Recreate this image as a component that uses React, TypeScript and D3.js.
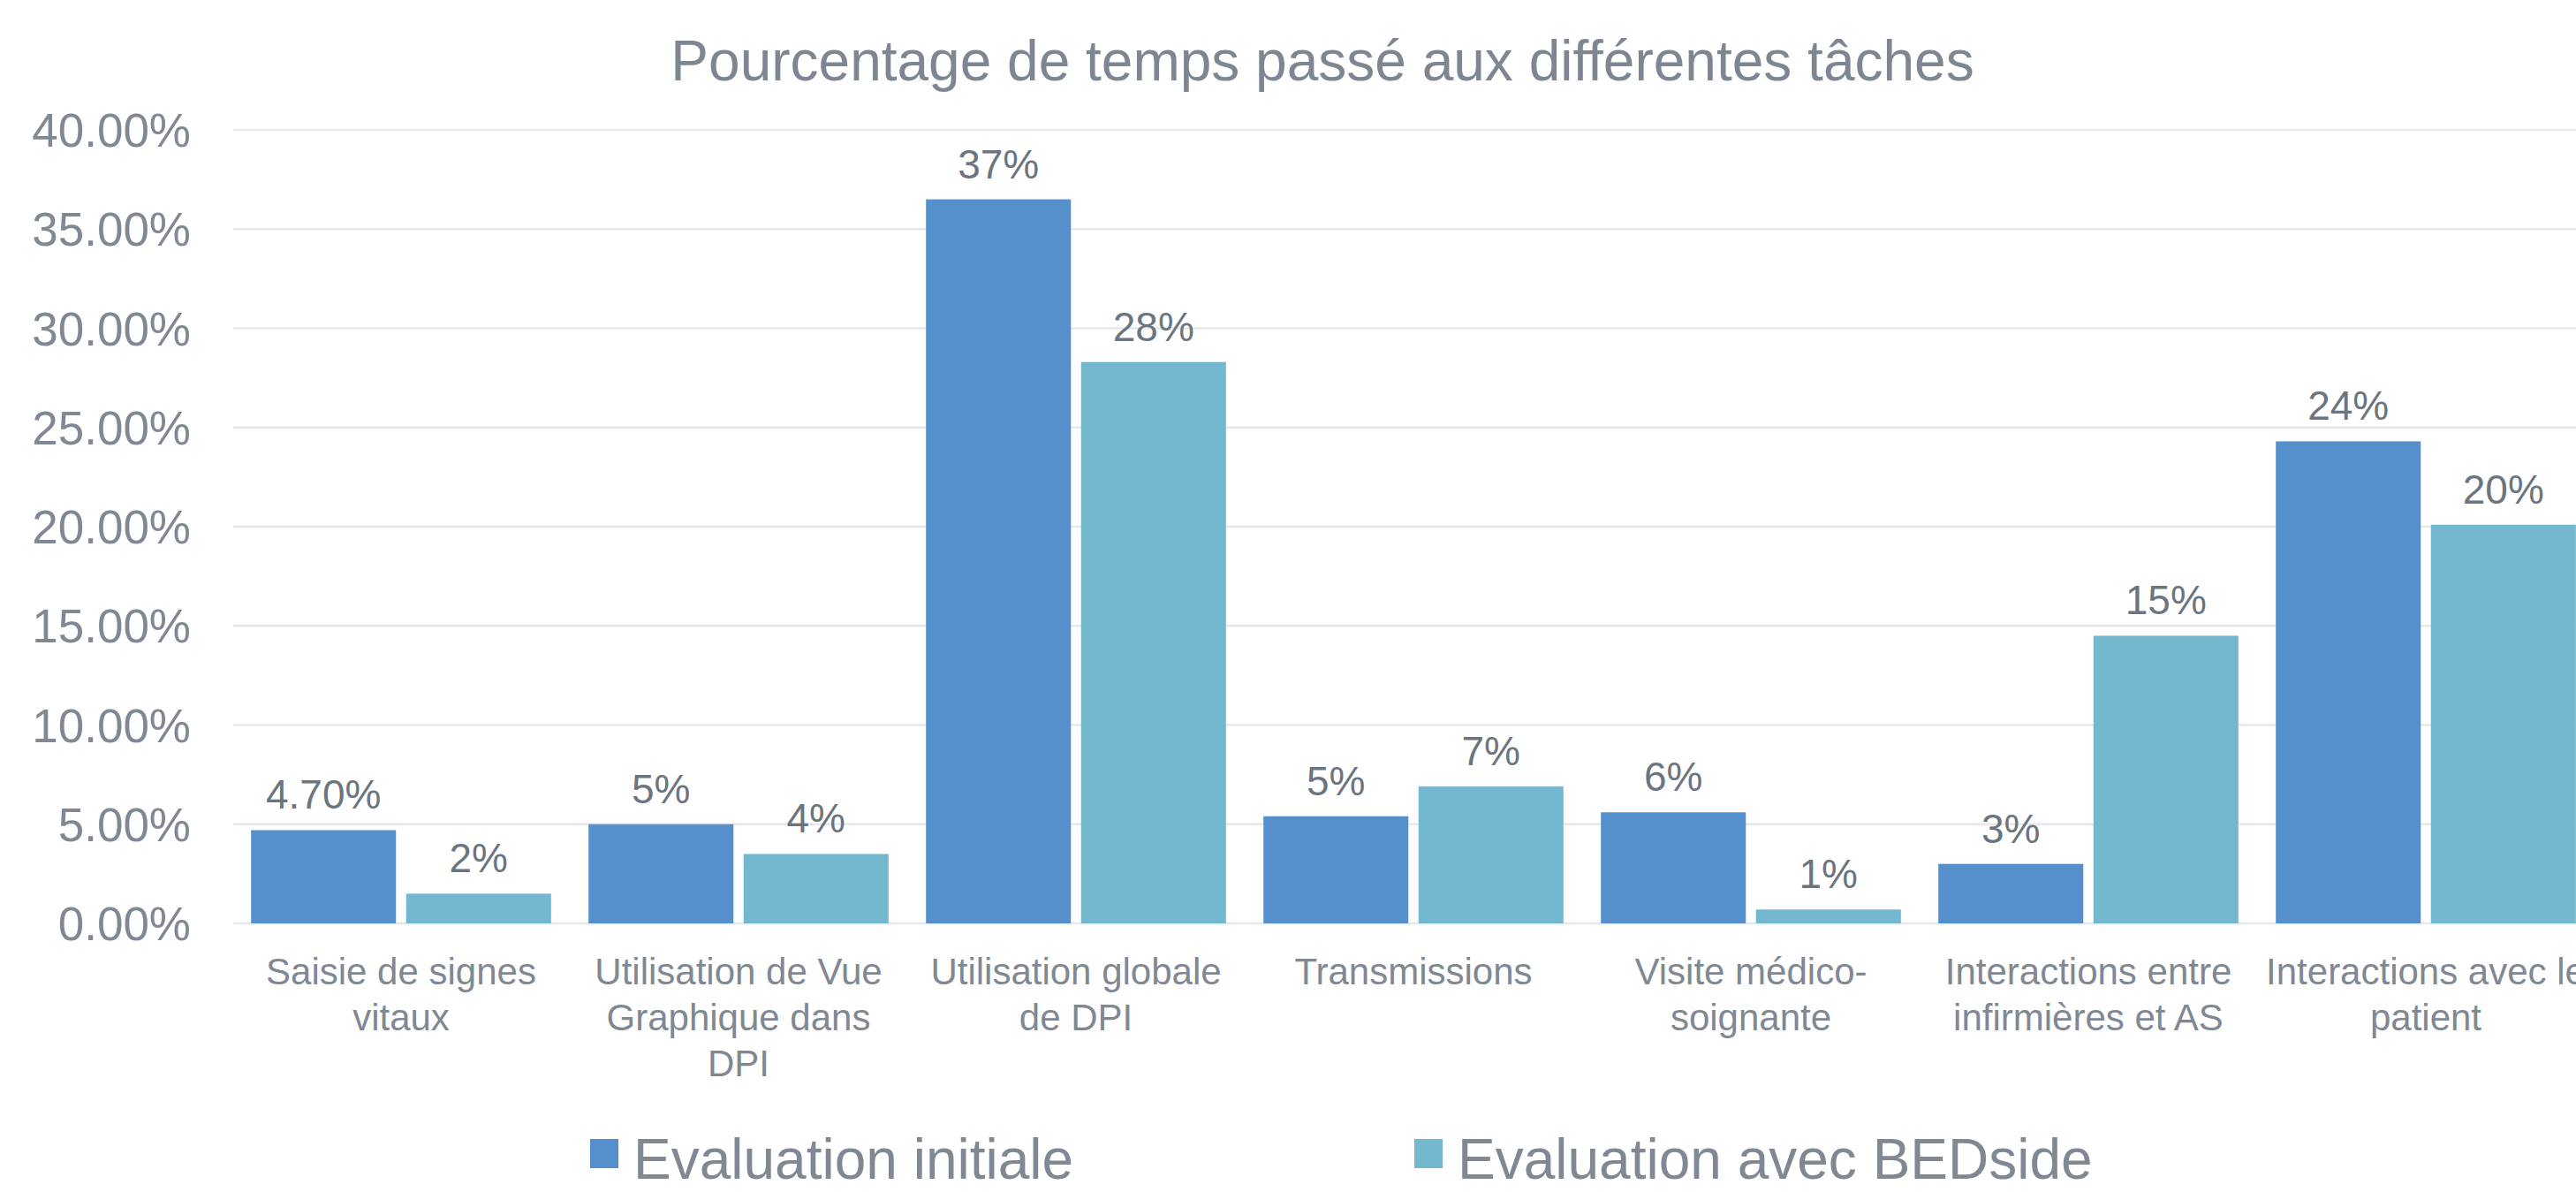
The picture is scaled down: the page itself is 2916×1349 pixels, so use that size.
import React from "react";
import * as d3 from "d3";

const title = "Pourcentage de temps passé aux différentes tâches";
const categories = [
  "Saisie de signes\nvitaux",
  "Utilisation de Vue\nGraphique dans\nDPI",
  "Utilisation globale\nde DPI",
  "Transmissions",
  "Visite médico-\nsoignante",
  "Interactions entre\ninfirmières et AS",
  "Interactions avec le\npatient",
];
const seriesNames = ["Evaluation initiale", "Evaluation avec BEDside"];
const initiale = [0.047, 0.05, 0.365, 0.054, 0.056, 0.03, 0.243];
const bedside = [0.015, 0.035, 0.283, 0.069, 0.007, 0.145, 0.201];
const initialeLabels = ["4.70%", "5%", "37%", "5%", "6%", "3%", "24%"];
const bedsideLabels = ["2%", "4%", "28%", "7%", "1%", "15%", "20%"];
const yTicks = [0, 0.05, 0.1, 0.15, 0.2, 0.25, 0.3, 0.35, 0.4];

const W = 2916;
const H = 1349;
const colors = ["#5590CC", "#73B8CE"];
const FONT = "'Liberation Sans', Arial, sans-serif";

export default function App() {
  const x0 = d3
    .scaleBand<number>()
    .domain(categories.map((_, i) => i))
    .range([263, 2937])
    .paddingInner(0.111)
    .paddingOuter(0.0555);
  const x1 = d3
    .scaleBand<number>()
    .domain([0, 1])
    .range([0, x0.bandwidth()])
    .paddingInner(0.0655)
    .paddingOuter(0);
  const y = d3.scaleLinear().domain([0, 0.4]).range([1045, 147]);
  const fmt = d3.format(".2%");
  const series = [initiale, bedside];
  const labels = [initialeLabels, bedsideLabels];

  const legendX = [668, 1601];

  return (
    <svg
      width={W}
      height={H}
      style={{ position: "absolute", left: 0, top: 0, background: "#fff" }}
      fontFamily={FONT}
    >
      <rect x={0} y={0} width={W} height={H} fill="#fff" />
      <text x={1497} y={91} textAnchor="middle" fontSize={64} fill="#7E8791">
        {title}
      </text>
      {yTicks.map((t) => (
        <g key={t}>
          <line x1={264} x2={W} y1={y(t)} y2={y(t)} stroke="#E5E8EB" strokeWidth={2.5} />
          <text
            x={216}
            y={y(t)}
            dy="0.36em"
            textAnchor="end"
            fontSize={53}
            fill="#7F8893"
          >
            {fmt(t)}
          </text>
        </g>
      ))}
      {categories.map((c, i) => (
        <g key={i} transform={`translate(${x0(i)},0)`}>
          {series.map((s, k) => (
            <g key={k}>
              <rect
                x={x1(k)}
                y={y(s[i])}
                width={x1.bandwidth()}
                height={y(0) - y(s[i])}
                fill={colors[k]}
              />
              <text
                x={(x1(k) as number) + x1.bandwidth() / 2}
                y={y(s[i]) - 24}
                textAnchor="middle"
                fontSize={46}
                fill="#6B7580"
              >
                {labels[k][i]}
              </text>
            </g>
          ))}
          <text textAnchor="middle" fontSize={42} fill="#7F8893">
            {c.split("\n").map((line, j) => (
              <tspan key={j} x={x0.bandwidth() / 2} y={1114 + j * 52}>
                {line}
              </tspan>
            ))}
          </text>
        </g>
      ))}
      {seriesNames.map((n, k) => (
        <g key={n}>
          <rect x={legendX[k]} y={1289} width={32} height={33} fill={colors[k]} />
          <text x={legendX[k] + 49} y={1334} fontSize={64} fill="#7F8893">
            {n}
          </text>
        </g>
      ))}
    </svg>
  );
}
